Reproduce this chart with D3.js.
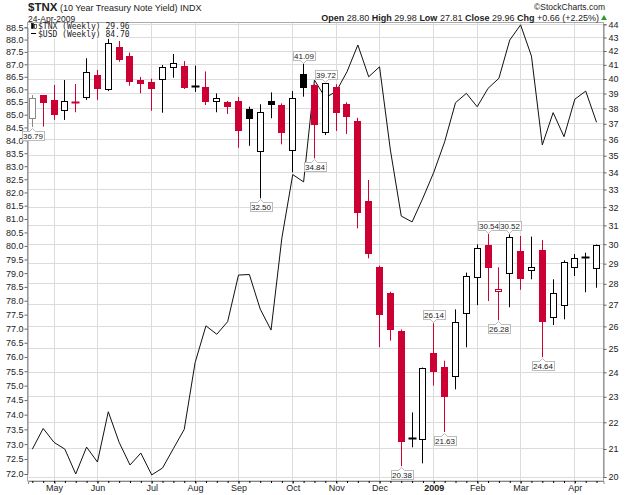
<!DOCTYPE html>
<html><head><meta charset="utf-8">
<script src="https://cdn.jsdelivr.net/npm/d3@7"></script>
<style>
body{margin:0;background:#fff}
svg{display:block}
text{font-family:"Liberation Sans",Arial,sans-serif;fill:#222}
</style>
</head><body>
<svg id="c" width="625" height="495"></svg>
<script>
// ---------- DATA ----------
const weekIdx = d3.range(53); // weekly bars, 21-Apr-2008 .. 20-Apr-2009
const opens  = [37.36,38.88,38.57,37.88,38.45,38.79,40.28,39.31,42.32,41.66,39.93,39.78,39.98,40.85,40.92,39.46,39.42,38.48,38.43,38.50,37.95,35.31,38.50,38.23,35.35,40.35,39.59,36.49,39.42,38.28,37.16,32.34,28.85,27.54,25.80,21.37,21.35,24.83,24.21,23.84,26.60,28.32,29.96,27.63,28.55,29.65,28.67,29.70,26.44,26.98,28.85,29.28,28.80];
const highs  = [38.90,38.90,39.59,39.93,39.65,41.47,40.64,43.06,42.74,41.88,40.14,40.02,40.99,41.78,41.27,40.94,40.53,39.01,38.50,38.77,38.12,38.28,39.08,38.34,39.17,41.09,39.65,39.72,39.64,38.41,37.39,33.55,28.90,27.62,25.86,22.38,24.20,26.14,24.49,26.78,28.55,29.99,30.54,28.82,30.52,30.43,30.40,30.22,28.22,29.17,29.49,29.56,29.98];
const lows   = [36.79,36.82,37.25,37.25,37.75,38.57,38.57,39.17,41.22,39.54,39.02,37.85,37.72,40.09,39.31,39.11,38.23,37.75,37.64,35.49,35.61,32.50,37.36,35.70,34.00,38.79,34.84,36.28,36.54,36.35,30.84,29.27,25.07,25.36,20.38,21.06,20.48,23.45,21.63,23.30,25.07,26.98,27.17,26.28,26.88,27.71,28.22,24.64,26.06,26.32,28.38,27.59,27.81];
const closes = [38.68,38.45,37.66,38.50,38.38,40.47,39.40,42.61,41.40,39.88,39.75,39.40,40.87,41.12,39.47,39.49,38.51,38.68,38.16,36.57,37.36,37.75,38.30,36.45,38.68,39.42,36.99,39.70,37.79,37.51,31.71,29.53,26.55,25.86,21.29,21.40,24.17,24.07,23.03,26.21,28.40,29.78,28.82,27.75,30.40,28.27,28.84,26.23,27.57,29.07,29.27,29.30,29.96];
const usd    = [72.83,73.53,73.06,72.83,72.00,72.90,72.40,74.10,73.06,72.30,72.70,71.97,72.20,72.85,73.50,75.80,77.10,76.80,77.25,78.93,78.95,77.70,76.95,80.30,82.68,82.40,86.37,85.67,85.91,86.70,87.78,86.50,86.90,83.62,81.11,80.89,81.79,82.77,83.94,85.47,85.84,85.31,86.04,86.44,87.98,88.60,87.33,83.82,85.08,84.14,85.61,85.93,84.70];
const monthTickIdx = [2,6,11,15,19,24,28,32,37,41,45,50];
const monthLabels  = ["May","Jun","Jul","Aug","Sep","Oct","Nov","Dec","2009","Feb","Mar","Apr"];
const tnxTicks = d3.range(20, 45);
const usdTicks = d3.range(0, 34).map(k => 72 + k * 0.5);
const lowLabelIdx  = [0,21,26,34,38,43,47];
const highLabelIdx = [25,27,37,42,44];

// ---------- LAYOUT ----------
const svg = d3.select("#c");
const L = 28, R = 603.5, T = 22, B = 481;
const x  = d3.scaleLinear().domain([-0.4, 52.64]).range([L, R]);
const yR = d3.scaleLog().domain([20, 44]).range([477, 24.3]);
const yL = d3.scaleLog().domain([72, 88.5]).range([474, 27.3]);
const red = "#cc0033", grid = "#dcdcdc";
const px = v => Math.floor(v) + 0.5;

// grid
const g = svg.append("g");
g.selectAll(".hg").data(tnxTicks).join("line")
  .attr("x1", L).attr("x2", R).attr("y1", d => px(yR(d))).attr("y2", d => px(yR(d)))
  .attr("stroke", grid);
g.selectAll(".vg").data(monthTickIdx).join("line")
  .attr("y1", T).attr("y2", B).attr("x1", d => px(x(d))).attr("x2", d => px(x(d)))
  .attr("stroke", grid);

// frame
svg.append("rect").attr("x", L - 0.5).attr("y", T + 0.5).attr("width", R - L + 0.5).attr("height", B - T - 0.5)
  .attr("fill", "none").attr("stroke", "#aaa");

// axes
const axL = svg.append("g").attr("transform", `translate(${L - 0.5},0)`)
  .call(d3.axisLeft(yL).tickValues(usdTicks).tickFormat(d3.format(".1f")).tickSize(3).tickPadding(1));
const axR = svg.append("g").attr("transform", `translate(${R},0)`)
  .call(d3.axisRight(yR).tickValues(tnxTicks).tickFormat(d3.format("d")).tickSize(3).tickPadding(2));
const axB = svg.append("g").attr("transform", `translate(0,${B})`)
  .call(d3.axisBottom(x).tickValues(monthTickIdx).tickFormat((d, i) => monthLabels[i]).tickSize(3).tickPadding(1));
svg.append("g").attr("transform", `translate(0,${B})`)
  .call(d3.axisBottom(x).tickValues(weekIdx).tickFormat("").tickSize(2))
  .call(a => a.select(".domain").remove());
[axL, axR, axB].forEach(a => {
  a.select(".domain").attr("stroke", "#888");
  a.selectAll(".tick line").attr("stroke", "#666");
  a.selectAll("text").style("font-size", "9px").attr("fill", "#222");
});
axB.selectAll(".tick line").attr("transform", d => `translate(${px(x(d)) - x(d)},0)`);
axB.selectAll("text").filter((d, i) => monthLabels[i] === "2009").style("font-weight", "bold");

// USD line
svg.append("path").datum(usd)
  .attr("d", d3.line().x((d, i) => x(i)).y(d => yL(d)))
  .attr("fill", "none").attr("stroke", "#111").attr("stroke-width", 1);

// candles
const cg = svg.append("g");
weekIdx.forEach(i => {
  const o = opens[i], c = closes[i], h = highs[i], l = lows[i];
  const prev = i > 0 ? closes[i - 1] : null;
  const col = prev === null ? "#888" : (c < prev ? red : "#000");
  const hollow = c >= o;
  const cx = px(x(i));
  cg.append("line").attr("x1", cx).attr("x2", cx).attr("y1", yR(h)).attr("y2", yR(l)).attr("stroke", col);
  const yt = yR(Math.max(o, c)), yb = yR(Math.min(o, c));
  if (yb - yt < 1.5) {
    cg.append("line").attr("x1", cx - 4).attr("x2", cx + 4).attr("y1", px((yt + yb) / 2)).attr("y2", px((yt + yb) / 2))
      .attr("stroke", col).attr("stroke-width", 2);
  } else {
    cg.append("rect").attr("x", cx - 3).attr("width", 6)
      .attr("y", Math.round(yt) + 0.5).attr("height", Math.max(1, Math.round(yb) - Math.round(yt)))
      .attr("fill", hollow ? "#fff" : col).attr("stroke", col);
  }
});

// value labels
function label(i, type) {
  const v = type === "low" ? lows[i] : highs[i];
  const cx = px(x(i));
  const t = v.toFixed(2);
  const w = 22, hgt = 9;
  const lg = svg.append("g");
  let top;
  if (type === "low") {
    top = Math.round(yR(v)) + 4;
  } else {
    top = Math.round(yR(v)) - 4 - hgt;
  }
  const bx = Math.round(cx - w / 2) + 0.5;
  lg.append("rect").attr("x", bx).attr("y", top + 0.5).attr("width", w).attr("height", hgt)
    .attr("fill", "#fff").attr("stroke", "#bbb");
  if (type === "low") {
    lg.append("path").attr("d", `M${cx - 3},${top + 0.5} L${cx},${top - 2.5} L${cx + 3},${top + 0.5}`)
      .attr("fill", "#fff").attr("stroke", "#bbb");
    lg.append("line").attr("x1", cx - 2.5).attr("x2", cx + 2.5).attr("y1", top + 0.5).attr("y2", top + 0.5).attr("stroke", "#fff");
  } else {
    lg.append("path").attr("d", `M${cx - 3},${top + hgt + 0.5} L${cx},${top + hgt + 3.5} L${cx + 3},${top + hgt + 0.5}`)
      .attr("fill", "#fff").attr("stroke", "#bbb");
    lg.append("line").attr("x1", cx - 2.5).attr("x2", cx + 2.5).attr("y1", top + hgt + 0.5).attr("y2", top + hgt + 0.5).attr("stroke", "#fff");
  }
  lg.append("text").attr("x", cx + 0.5).attr("y", top + hgt - 1.5).attr("text-anchor", "middle")
    .style("font-size", "8px").text(t);
}
lowLabelIdx.forEach(i => label(i, "low"));
highLabelIdx.forEach(i => label(i, "high"));

// legend
const lgd = svg.append("g");
lgd.append("rect").attr("x", L + 1).attr("y", T + 1).attr("width", 100).attr("height", 16).attr("fill", "#fff").attr("opacity", 0.9);
lgd.append("rect").attr("x", 31.5).attr("y", 23.5).attr("width", 2).attr("height", 5).attr("fill", "#000").attr("stroke", "#000").attr("stroke-width", 0.6);
lgd.append("rect").attr("x", 34.5).attr("y", 24.5).attr("width", 2).attr("height", 4).attr("fill", "#fff").attr("stroke", "#000").attr("stroke-width", 0.6);
lgd.append("text").attr("x", 38).attr("y", 29).style("font-family", "'DejaVu Sans Mono',monospace").style("font-size", "8px")
  .text(`$TNX (Weekly) ${closes[52].toFixed(2)}`);
lgd.append("line").attr("x1", 31).attr("x2", 36).attr("y1", 33.5).attr("y2", 33.5).attr("stroke", "#000");
lgd.append("text").attr("x", 38).attr("y", 36.5).style("font-family", "'DejaVu Sans Mono',monospace").style("font-size", "8px")
  .text(`$USD (Weekly) ${usd[52].toFixed(2)}`);

// header
const ttl = svg.append("text").attr("x", 28).attr("y", 11);
ttl.append("tspan").style("font-weight", "bold").style("font-size", "11.5px").text("$TNX");
ttl.append("tspan").style("font-size", "9px").text(" (10 Year Treasury Note Yield) INDX");
svg.append("text").attr("x", 28).attr("y", 21.5).style("font-size", "8.5px").text("24-Apr-2009");
svg.append("text").attr("x", 605).attr("y", 10).attr("text-anchor", "end").style("font-size", "8.5px").attr("fill", "#555").text("\u00A9StockCharts.com");
const chg = closes[52] - closes[51];
const info = svg.append("text").attr("x", 599).attr("y", 21).attr("text-anchor", "end").style("font-size", "9px");
[["Open ", true], [opens[52].toFixed(2) + " ", false], ["High ", true], [highs[52].toFixed(2) + " ", false],
 ["Low ", true], [lows[52].toFixed(2) + " ", false], ["Close ", true], [closes[52].toFixed(2) + " ", false],
 ["Chg ", true], [`+${chg.toFixed(2)} (+${(chg / closes[51] * 100).toFixed(2)}%)`, false]]
  .forEach(([s, b]) => info.append("tspan").style("font-weight", b ? "bold" : "normal").text(s));
svg.append("path").attr("d", "M601,20 L604,15 L607,20 Z").attr("fill", "#2a9d2a");
</script>
</body></html>
